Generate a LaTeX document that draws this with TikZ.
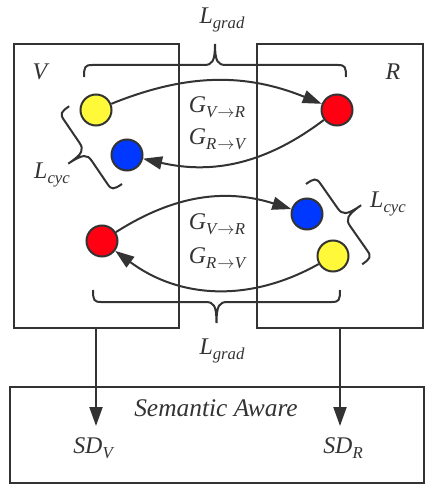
\documentclass[tikz,border=0pt]{standalone}
\usepackage{fontspec}
\setmainfont{Liberation Serif}
\usetikzlibrary{arrows.meta}
\definecolor{ink}{HTML}{333333}
\definecolor{cyel}{HTML}{FFF93A}
\definecolor{cred}{HTML}{FF0012}
\definecolor{cblu}{HTML}{0038FF}
\newcommand\lowsub[1]{\raisebox{-0.22em}{\fontsize{16.8}{17}\selectfont #1}}
\newcommand\rarr{\kern0.05em\ensuremath{\rightarrow}\kern0.02em}
\begin{document}
\begin{tikzpicture}[x=1bp,y=1bp,
  box/.style={draw=ink, line width=2.2bp, inner sep=0pt},
  ball/.style={circle, draw=ink, line width=2bp, minimum size=31bp, inner sep=0pt},
  lab/.style={inner sep=0pt, text=ink, font=\fontsize{24}{28}\selectfont\itshape},
  link/.style={draw=ink, line width=2bp, -{Triangle[length=19bp,width=13bp]}},
  brc/.style={draw=ink, line width=2bp},
  pics/cbrace/.style={code={
    \draw[brc] (0,0) .. controls (0,10) and (1,12) .. (8,12)
      -- ({#1/2-11},12) .. controls ({#1/2-3},12) and ({#1/2},15) .. ({#1/2},33)
      .. controls ({#1/2},15) and ({#1/2+3},12) .. ({#1/2+11},12)
      -- ({#1-8},12) .. controls ({#1-1},12) and (#1,10) .. (#1,0);
  }}]
\useasboundingbox (0,0) rectangle (437,-496);

% boxes
\node[box, minimum width=165bp, minimum height=284bp] (Vbox) at (96.5,-186) {};
\node[box, minimum width=166bp, minimum height=284bp] (Rbox) at (340,-186) {};
\node[box, minimum width=414bp, minimum height=96bp] (Sbox) at (217,-435) {};

\node[lab] (Vl) at (40,-72) {V};
\node[lab] (Rl) at (393,-72) {R};

% balls
\node[ball, fill=cyel] (y1) at (96,-110) {};
\node[ball, fill=cblu] (b1) at (127,-155) {};
\node[ball, fill=cred] (r1) at (337,-110) {};
\node[ball, fill=cred] (r2) at (102,-241) {};
\node[ball, fill=cblu] (b2) at (307,-214) {};
\node[ball, fill=cyel] (y2) at (333,-256) {};

% generator arrows
\draw[link] (y1) to[bend left=22] (r1);
\draw[link] (r1) to[bend left=25] (b1);
\draw[link] (r2) to[bend left=25] (b2);
\draw[link] (y2) to[bend left=33] (r2);

\node[lab] (g1) at (217,-107) {G\lowsub{V\rarr R}};
\node[lab] (g2) at (217,-139) {G\lowsub{R\rarr V}};
\node[lab] (g3) at (217,-224) {G\lowsub{V\rarr R}};
\node[lab] (g4) at (217,-258) {G\lowsub{R\rarr V}};

% braces
\pic at (84,-77) {cbrace=262};
\pic[rotate=180] at (340,-290) {cbrace=247};
\pic[rotate=124.2] at (122,-184) {cbrace=94};
\pic[rotate=-55] at (306,-184) {cbrace=98};

\node[lab] (lg1) at (222,-20) {L\lowsub{grad}};
\node[lab] (lg2) at (222,-351) {L\lowsub{grad}};
\node[lab] (lc1) at (52,-175) {L\lowsub{cyc}};
\node[lab] (lc2) at (388,-204) {L\lowsub{cyc}};

% semantic aware
\node[lab, font=\fontsize{25.5}{28}\selectfont\itshape] (sa) at (216,-408) {Semantic Aware};
\node[lab] (sdv) at (93,-448) {SD\lowsub{V}};
\node[lab] (sdr) at (343,-448) {SD\lowsub{R}};
\coordinate (tV) at (96,-426);
\coordinate (tR) at (340,-426);
\draw[link] (Vbox.south -| tV) -- (tV);
\draw[link] (Rbox.south -| tR) -- (tR);
\end{tikzpicture}
\end{document}
